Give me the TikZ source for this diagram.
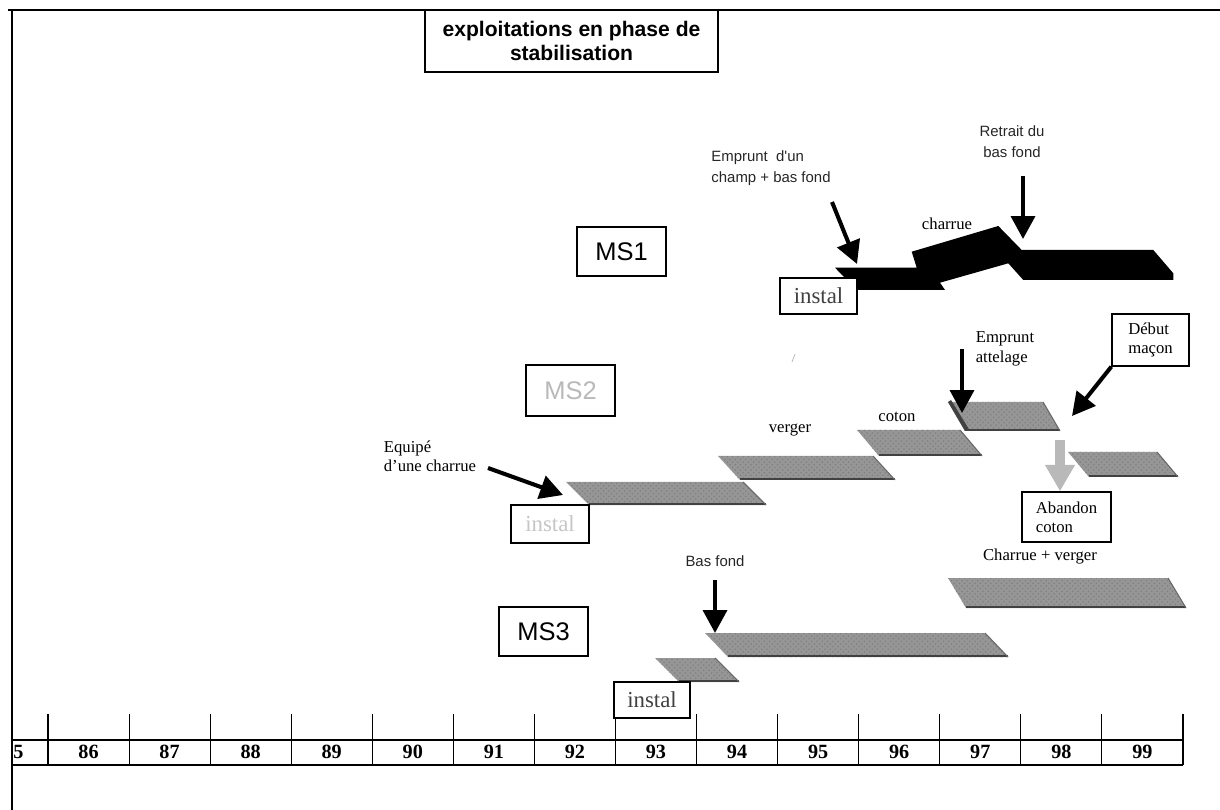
\documentclass[tikz,border=0pt]{standalone}
\usepackage{fontspec}
\setmainfont{Liberation Serif}
\newfontfamily\arialf{Liberation Sans}
\usetikzlibrary{arrows.meta,patterns}
\definecolor{barfill}{RGB}{150,150,150}
\definecolor{baredge}{RGB}{65,65,65}
\newcommand{\drawbar}[5]{%
  \fill[barfill] (#1,#3) -- (#2,#3) -- ({#2+#5},#4) -- ({#1+#5},#4) -- cycle;
  \fill[pattern=crosshatch dots, pattern color=black!50] (#1,#3) -- (#2,#3) -- ({#2+#5},#4) -- ({#1+#5},#4) -- cycle;
  \draw[line width=1.6pt, baredge] ({#1+#5},{#4-1}) -- ({#2+#5},{#4-1});
  \draw[line width=0.6pt, baredge!80] (#2,#3) -- ({#2+#5},#4);
}
\tikzset{
  box/.style={draw, line width=0.8pt, fill=white, inner sep=0pt},
  tlabel/.style={font=\fontsize{9.5}{11}\selectfont, align=left, inner sep=0pt},
  clabel/.style={font=\arialf\fontsize{8.5}{12}\selectfont, text=black!85, align=left, inner sep=0pt},
  yr/.style={font=\bfseries\fontsize{11.5}{12}\selectfont, inner sep=0pt},
  bigarrow/.style={line width=2.3pt, -{Triangle[length=13pt,width=13.5pt]}},
  msbox/.style={box, font=\arialf\fontsize{14.5}{16}\selectfont, minimum width=1.78cm, minimum height=0.98cm},
  instbox/.style={box, font=\fontsize{13}{14}\selectfont, text=black!75, minimum width=1.54cm, minimum height=0.72cm},
}
\begin{document}
\begin{tikzpicture}[x=0.02cm,y=-0.02cm]
\useasboundingbox (0,0) rectangle (1220,810);
% frame
\draw[line width=1.1pt] (8,10) -- (1220,10);
\draw[line width=1.1pt] (12,10) -- (12,810);
% title
\node[box, minimum width=5.86cm, minimum height=1.24cm, font=\arialf\bfseries\fontsize{12}{13.5}\selectfont, align=center] (title) at (571.5,41) {exploitations en phase de\\stabilisation};
% timeline
\foreach \k in {0,...,14} {
  \draw[line width=0.6pt] ({48+81.07*\k},714) -- ({48+81.07*\k},765);
}
\draw[line width=0.9pt] (12,740) -- (1183,740);
\draw[line width=0.9pt] (12,765) -- (1183,765);
\node[yr, anchor=west] (y85) at (13,752) {5};
\foreach \yy [count=\k from 0] in {86,...,99} {
  \node[yr] (y\yy) at ({88.5+81.07*\k},752) {\yy};
}
% ===== MS1 =====
\node[msbox] (ms1) at (621.5,251.5) {MS1};
\fill[black] (835,267.7) -- (916.7,267.7) -- (911.7,251.7) -- (998.3,226) -- (1021.7,250)
  -- (1153.3,250) -- (1173.3,273.3) -- (1173.3,280) -- (1023.3,280) -- (1008.3,263.3)
  -- (940,282.7) -- (945,290) -- (856.7,290) -- cycle;
\node[instbox] (ms1inst) at (818.5,296) {instal};
\node[clabel] (emp1) at (771,168) {Emprunt\ \ d'un\\champ + bas fond};
\node[clabel, align=center] (retrait) at (1012,142) {Retrait du\\bas fond};
\node[tlabel] (charrue1) at (947,224) {charrue};
\coordinate (a1s) at (832,202);
\coordinate (a1e) at (857,264);
\coordinate (a2s) at (1023,176);
\coordinate (a2e) at (1023,239);
\draw[bigarrow] (a1s) -- (a1e);
\draw[bigarrow] (a2s) -- (a2e);
% ===== MS2 =====
\node[msbox, minimum height=1.02cm, text=gray!55] (ms2) at (570.5,390.5) {MS2};
\draw[gray!60, line width=0.4pt] (792,362) -- (795,354);
\drawbar{566}{743}{482}{505}{23}
\drawbar{718}{873}{456}{480}{22}
\drawbar{857}{960}{430}{456}{22}
\drawbar{948}{1043}{402}{431}{17}
\fill[baredge] (948,402) -- (965,431) -- (970,431) -- (951,400) -- cycle;
\drawbar{1068}{1157}{452}{477}{21}
\drawbar{948}{1168}{578}{608}{18}
\node[instbox, minimum width=1.56cm, minimum height=0.76cm, text=gray!45] (ms2inst) at (550,524) {instal};
\node[tlabel] (verger) at (790,430) {verger};
\node[tlabel] (coton) at (897,417) {coton};
\node[tlabel] (equipe) at (430,456) {Equipé\\d'une charrue};
\node[tlabel] (empatt) at (1005,349) {Emprunt\\attelage};
\node[box, font=\fontsize{9.5}{11}\selectfont, align=left, minimum width=1.54cm, minimum height=1.04cm] (debut) at (1150.5,340) {Début\\maçon};
\node[box, font=\fontsize{9.5}{11}\selectfont, align=left, minimum width=1.78cm, minimum height=1.0cm] (abandon) at (1066.5,517) {Abandon\\coton};
\node[tlabel] (chv) at (1040,557) {Charrue + verger};
\coordinate (a3s) at (488,468);
\coordinate (a3e) at (563,495);
\coordinate (a4s) at (962,349);
\coordinate (a4e) at (962,413);
\coordinate (a5e) at (1072,416);
\coordinate (g1) at (1060,440);
\draw[bigarrow] (a3s) -- (a3e);
\draw[bigarrow] (a4s) -- (a4e);
\draw[bigarrow] (debut.south west) -- (a5e);
\draw[line width=5.5pt, gray!55, -{Triangle[length=15pt,width=16pt]}] (g1) -- (g1 |- abandon.north);
% ===== MS3 =====
\node[msbox] (ms3) at (543.5,631.5) {MS3};
\drawbar{705}{985}{633}{657}{23}
\drawbar{655}{715}{658}{682}{24}
\node[instbox, minimum width=1.52cm] (ms3inst) at (652,700) {instal};
\node[clabel] (basfond) at (715,561) {Bas fond};
\coordinate (a7s) at (715,580);
\coordinate (a7e) at (715,633);
\draw[bigarrow] (a7s) -- (a7e);
\end{tikzpicture}
\end{document}
